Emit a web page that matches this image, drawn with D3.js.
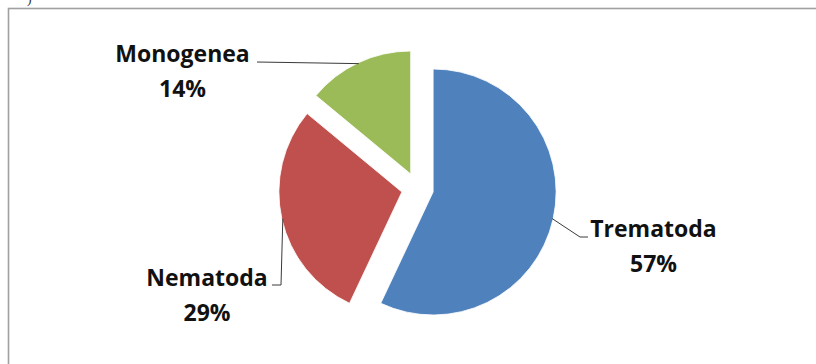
<!DOCTYPE html>
<html>
<head>
<meta charset="utf-8">
<script src="https://cdn.jsdelivr.net/npm/d3@7"></script>
<style>
  html, body { margin: 0; padding: 0; background: #fff; }
  svg { display: block; }
</style>
</head>
<body>
<svg id="chart" width="816" height="364"></svg>
<script>
// Parasite groups and their share of the total (%)
const categories = ["Trematoda", "Nematoda", "Monogenea"];
const shares = [57, 29, 14];
const sliceColors = ["#4F81BD", "#C0504D", "#9BBB59"];

const W = 816, H = 364;
const svg = d3.select("#chart");

// Chart frame (continues past the right and bottom edges)
svg.append("rect")
  .attr("x", 8.5).attr("y", 8.5)
  .attr("width", W + 20).attr("height", H + 20)
  .attr("fill", "none")
  .attr("stroke", "#a0a0a0")
  .attr("stroke-width", 1.6);

// Fragment of a caption sitting above the frame
svg.append("text")
  .attr("x", 27).attr("y", 3)
  .attr("font-family", "Liberation Serif, serif")
  .attr("font-size", 14)
  .attr("fill", "#333")
  .text(")");

const cx = 417.5, cy = 188.5;   // pie centre
const radius = 123;
const explode = 16;             // every slice is pulled out along its bisector

const pie = d3.pie().sort(null).startAngle(0).endAngle(2 * Math.PI);
const arcs = pie(shares);
const arcGen = d3.arc().innerRadius(0).outerRadius(radius);

const g = svg.append("g").attr("transform", `translate(${cx},${cy})`);

const mid = a => (a.startAngle + a.endAngle) / 2;
const polar = (ang, r) => [Math.sin(ang) * r, -Math.cos(ang) * r];

g.selectAll("path.slice")
  .data(arcs)
  .join("path")
  .attr("class", "slice")
  .attr("transform", d => {
    const [dx, dy] = polar(mid(d), explode);
    return `translate(${dx},${dy})`;
  })
  .attr("d", arcGen)
  .attr("fill", (d, i) => sliceColors[i])
  .attr("stroke", "#fff")
  .attr("stroke-width", 0.8);

// Label placement: leader bend points and text anchors, relative to the pie centre
const labelLayout = {
  Trematoda: { path: [[162.5, 48.5], [170.5, 48.5]], text: [236, 48.5] },
  Nematoda:  { path: [[-136.5, 96.5], [-145.5, 96.5]], text: [-210.5, 97.5] },
  Monogenea: { path: [[-160.5, -126.5]], text: [-235, -126.5] }
};

const fontFamily = "'Open Sans', sans-serif";
const lineGen = d3.line();

arcs.forEach((a, i) => {
  const name = categories[i];
  const lay = labelLayout[name];
  const [ex, ey] = polar(mid(a), explode);
  const [ax, ay] = polar(mid(a), radius - 1);
  const start = [ex + ax, ey + ay];

  g.append("path")
    .attr("d", lineGen([start, ...lay.path]))
    .attr("fill", "none")
    .attr("stroke", "#3a3a3a")
    .attr("stroke-width", 1);

  const t = g.append("text")
    .attr("text-anchor", "middle")
    .attr("font-family", fontFamily)
    .attr("font-weight", 700)
    .attr("font-size", 23)
    .attr("fill", "#111");
  t.append("tspan")
    .attr("x", lay.text[0]).attr("y", lay.text[1])
    .text(name);
  t.append("tspan")
    .attr("x", lay.text[0]).attr("dy", 35)
    .text(shares[i] + "%");
});
</script>
</body>
</html>
